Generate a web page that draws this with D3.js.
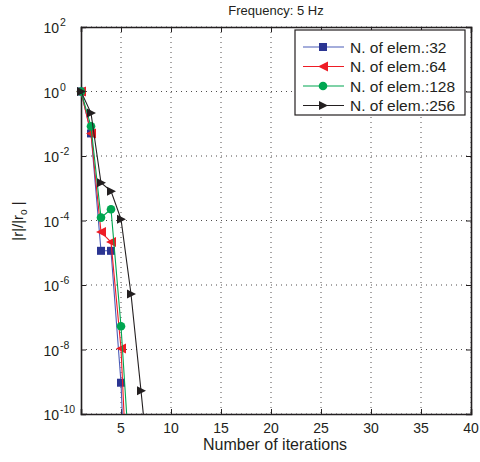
<!DOCTYPE html>
<html>
<head>
<meta charset="utf-8">
<script src="https://cdn.jsdelivr.net/npm/d3@7"></script>
<style>
  body { margin: 0; background: #fff; }
  text { font-family: "Liberation Sans", Arial, sans-serif; fill: #231f20; }
</style>
</head>
<body>
<div id="chart"></div>
<script>
// iterations and log10 of |r|/|r0|
var iters32  = [1, 2, 3, 4, 5, 6];
var log32    = [0, -1.3, -4.94, -4.94, -9.03, -16.5];
var iters64  = [1, 2, 3, 4, 5, 6];
var log64    = [0, -1.3, -4.36, -4.67, -7.97, -14.7];
var iters128 = [1, 2, 3, 4, 5, 6];
var log128   = [0, -1.08, -3.91, -3.65, -7.28, -12.1];
var iters256 = [1, 2, 3, 4, 5, 6, 7, 8];
var log256   = [0, -0.67, -2.83, -3.09, -3.96, -6.28, -9.28, -12.4];

var xTicks = [5, 10, 15, 20, 25, 30, 35, 40];
var yTickExp = [2, 0, -2, -4, -6, -8, -10];

var series = [
  { name: "N. of elem.:32",  x: iters32,  y: log32,  line: "#4b5cb8", mark: "#2b3592", shape: "square" },
  { name: "N. of elem.:64",  x: iters64,  y: log64,  line: "#ee1c25", mark: "#ee1c25", shape: "left" },
  { name: "N. of elem.:128", x: iters128, y: log128, line: "#00a651", mark: "#00a651", shape: "circle" },
  { name: "N. of elem.:256", x: iters256, y: log256, line: "#231f20", mark: "#231f20", shape: "right" }
];

var W = 480, H = 462;
var margin = { top: 27, right: 9, bottom: 48, left: 81 };
var width = W - margin.left - margin.right,
    height = H - margin.top - margin.bottom;

var svg = d3.select("#chart").append("svg")
  .attr("width", W).attr("height", H);

var g = svg.append("g")
  .attr("transform", "translate(" + margin.left + "," + margin.top + ")");

var x = d3.scaleLinear().domain([1, 40]).range([0, width]);
var y = d3.scaleLog().domain([1e-10, 1e2]).range([height, 0]);

// grid
g.selectAll(".gx").data(xTicks).enter().append("line")
  .attr("x1", d => x(d)).attr("x2", d => x(d))
  .attr("y1", 0).attr("y2", height)
  .attr("stroke", "#231f20").attr("stroke-width", 0.8)
  .attr("stroke-dasharray", "1,4");
g.selectAll(".gy").data(yTickExp).enter().append("line")
  .attr("x1", 0).attr("x2", width)
  .attr("y1", d => y(Math.pow(10, d))).attr("y2", d => y(Math.pow(10, d)))
  .attr("stroke", "#231f20").attr("stroke-width", 0.8)
  .attr("stroke-dasharray", "1,4");

// axes (ticks inward, box)
var xAxis = d3.axisBottom(x).tickValues(xTicks).tickSize(-5).tickFormat("");
var xAxisTop = d3.axisTop(x).tickValues(xTicks).tickSize(-5).tickFormat("");
var yAxis = d3.axisLeft(y).tickValues(yTickExp.map(e => Math.pow(10, e))).tickSize(-5).tickFormat("");
var yAxisR = d3.axisRight(y).tickValues(yTickExp.map(e => Math.pow(10, e))).tickSize(-5).tickFormat("");

g.append("g").attr("transform", "translate(0," + height + ")").call(xAxis);
g.append("g").call(xAxisTop);
g.append("g").call(yAxis);
g.append("g").attr("transform", "translate(" + width + ",0)").call(yAxisR);
g.selectAll(".domain").attr("stroke", "#231f20").attr("stroke-width", 1.6);
g.selectAll(".tick line").attr("stroke", "#231f20");

// tick labels
g.selectAll(".xl").data(xTicks).enter().append("text")
  .attr("x", d => x(d)).attr("y", height + 19)
  .attr("text-anchor", "middle").attr("font-size", 14)
  .text(d => d);

g.selectAll(".yl").data(yTickExp).enter().append("text")
  .attr("x", -22).attr("y", d => y(Math.pow(10, d)) + 6)
  .attr("text-anchor", "end").attr("font-size", 14)
  .text("10");
g.selectAll(".ye").data(yTickExp).enter().append("text")
  .attr("x", -21).attr("y", d => y(Math.pow(10, d)) - 1)
  .attr("font-size", 10.5)
  .text(d => d < 0 ? "-" + (-d) : d);

// clip
svg.append("defs").append("clipPath").attr("id", "clip")
  .append("rect").attr("x", -8).attr("y", -8).attr("width", width + 16).attr("height", height + 8);

var plot = g.append("g").attr("clip-path", "url(#clip)");

var line = d3.line().x(d => x(d[0])).y(d => y(Math.pow(10, d[1])));

function marker(sel, shape, color) {
  if (shape === "square") {
    sel.append("rect").attr("x", -4).attr("y", -4).attr("width", 8).attr("height", 8).attr("fill", color);
  } else if (shape === "circle") {
    sel.append("circle").attr("r", 4.3).attr("fill", color);
  } else if (shape === "left") {
    sel.append("path").attr("d", "M-5,0L5,-5L5,5Z").attr("fill", color);
  } else {
    sel.append("path").attr("d", "M5,0L-4,-4.5L-4,4.5Z").attr("fill", color);
  }
}

series.forEach(function (s) {
  var pts = s.x.map((v, i) => [v, s.y[i]]);
  plot.append("path").datum(pts)
    .attr("fill", "none").attr("stroke", s.line).attr("stroke-width", 1.1)
    .attr("d", line);
  pts.filter(p => p[1] >= -10).forEach(function (p) {
    var m = plot.append("g")
      .attr("transform", "translate(" + x(p[0]) + "," + y(Math.pow(10, p[1])) + ")");
    marker(m, s.shape, s.mark);
  });
});

// legend
var lg = svg.append("g").attr("transform", "translate(295,30)");
lg.append("rect").attr("width", 170).attr("height", 85)
  .attr("fill", "#fff").attr("stroke", "#231f20").attr("stroke-width", 1.2);
series.forEach(function (s, i) {
  var row = lg.append("g").attr("transform", "translate(0," + (17 + i * 19.5) + ")");
  row.append("line").attr("x1", 8).attr("x2", 49).attr("stroke", s.line).attr("stroke-width", 1.1);
  marker(row.append("g").attr("transform", "translate(28,0)"), s.shape, s.mark);
  row.append("text").attr("x", 55).attr("y", 5.5).attr("font-size", 15.5).text(s.name);
});

// titles
svg.append("text").attr("x", 276).attr("y", 15).attr("text-anchor", "middle")
  .attr("font-size", 13).text("Frequency: 5 Hz");
svg.append("text").attr("x", 275).attr("y", 450).attr("text-anchor", "middle")
  .attr("font-size", 16).text("Number of iterations");
var yt = svg.append("text").attr("transform", "translate(23,221) rotate(-90)")
  .attr("text-anchor", "middle").attr("font-size", 15);
yt.append("tspan").text("|r|/|r");
yt.append("tspan").attr("dy", 4).attr("font-size", 10).text("o");
yt.append("tspan").attr("dy", -4).text(" |");
</script>
</body>
</html>
